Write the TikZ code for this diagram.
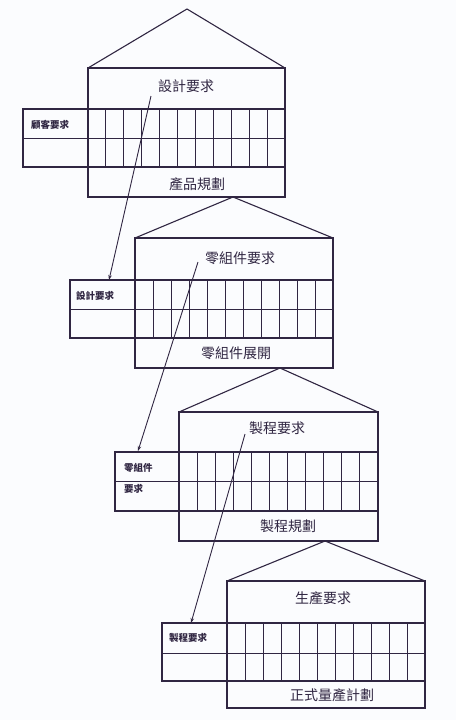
\documentclass[tikz,border=0pt]{standalone}
\usepackage{fontspec}
\newfontfamily\cjk{Noto Sans CJK TC}
\definecolor{ink}{RGB}{48,38,66}
\definecolor{bg}{RGB}{251,252,254}
\tikzset{
  frame/.style={draw=ink, line width=1.1pt},
  grid/.style={draw=ink, line width=0.9pt},
  big/.style={text=ink, font=\cjk\fontsize{14}{16}\selectfont, inner sep=0pt},
  small/.style={text=ink, font=\cjk\bfseries\fontsize{9.5}{11}\selectfont, inner sep=0pt, anchor=west},
  link/.style={draw=ink, line width=0.9pt, -{Stealth[length=5pt,width=3.5pt]}}
}
\usetikzlibrary{arrows.meta}
\begin{document}
\begin{tikzpicture}[x=1pt,y=-1pt]
\fill[bg] (0,0) rectangle (456,720);
\useasboundingbox (0,0) rectangle (456,720);
% block macro: #1 xl, #2 x0, #3 x1, #4 apex x, #5 apex y, #6 top, #7 r1, #8 r2, #9 r3, bottom via \ybot
\newcommand{\qfdblock}[9]{%
  \draw[frame] (#2,#6) -- (#4,#5) -- (#3,#6);
  \draw[frame] (#2,#6) rectangle (#3,\ybot);
  \draw[frame] (#1,#7) rectangle (#3,#9);
  \draw[grid] (#1,#8) -- (#3,#8);
  \pgfmathsetmacro{\cw}{(#3-#2)/11}
  \foreach \i in {1,...,10} {\draw[grid] ({#2+\i*\cw},#7) -- ({#2+\i*\cw},#9);}
}
% Block 1
\def\ybot{197}
\qfdblock{23}{88}{285}{187}{9}{68}{109}{138}{167}
\node[big] (t1) at (186,86) {設計要求};
\node[big] (b1) at (197,184) {產品規劃};
\node[small] (l1) at (31,125) {顧客要求};
% Block 2
\def\ybot{368}
\qfdblock{70}{135}{333}{233}{197}{238}{280}{309}{338}
\node[big] (t2) at (240,258) {零組件要求};
\node[big] (b2) at (236,353) {零組件展開};
\node[small] (l2) at (76,296) {設計要求};
% Block 3
\def\ybot{541}
\qfdblock{115}{179}{378}{280}{368}{412}{452}{481}{511}
\node[big] (t3) at (277,428) {製程要求};
\node[big] (b3) at (288,526) {製程規劃};
\node[small] (l3a) at (124,468) {零組件};
\node[small] (l3b) at (124,489) {要求};
% Block 4
\def\ybot{708}
\qfdblock{162}{227}{425}{325}{541}{581}{623}{653}{681}
\node[big] (t4) at (323,598) {生產要求};
\node[big] (b4) at (332,695) {正式量產計劃};
\node[small] (l4) at (169,638) {製程要求};
% links
\coordinate (s1) at (151,96);
\coordinate (e1) at (109,280);
\coordinate (s2) at (198,262);
\coordinate (e2) at (138,451);
\coordinate (s3) at (245,434);
\coordinate (e3) at (191,623);
\draw[link] (s1) -- (e1);
\draw[link] (s2) -- (e2);
\draw[link] (s3) -- (e3);
\end{tikzpicture}
\end{document}
